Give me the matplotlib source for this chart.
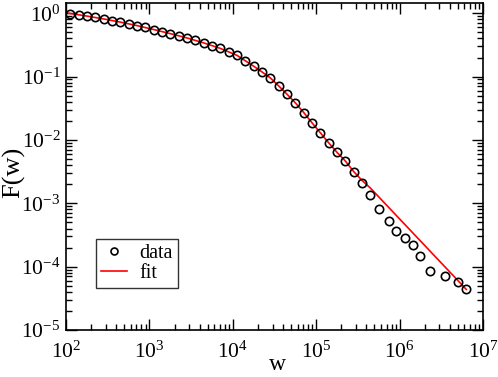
import matplotlib
matplotlib.use("Agg")
import matplotlib.pyplot as plt
import numpy as np

# log10 of w for data points
data_logw = [2.05, 2.15, 2.25, 2.35, 2.45, 2.55, 2.65, 2.75, 2.85, 2.95,
             3.05, 3.15, 3.25, 3.35, 3.45, 3.55, 3.65, 3.75, 3.85, 3.95,
             4.05, 4.15, 4.25, 4.35, 4.45, 4.55, 4.65, 4.75, 4.85, 4.95,
             5.05, 5.15, 5.25, 5.35, 5.45, 5.55, 5.65, 5.75,
             5.87, 5.96, 6.06, 6.16, 6.25, 6.36, 6.54, 6.70, 6.80]
# log10 of F(w) for data points
data_logF = [-0.01, -0.025, -0.045, -0.065, -0.09, -0.115, -0.14, -0.165, -0.195, -0.225,
             -0.257, -0.29, -0.322, -0.356, -0.39, -0.43, -0.468, -0.51, -0.555, -0.605,
             -0.665, -0.75, -0.836, -0.926, -1.021, -1.147, -1.278, -1.415, -1.567, -1.73,
             -1.888, -2.046, -2.197, -2.334, -2.50, -2.68, -2.865, -3.096,
             -3.281, -3.43, -3.54, -3.659, -3.83, -4.065, -4.148, -4.238, -4.358]

# fit curve (log10 values)
fit_logw = [2.03, 2.25, 2.45, 2.65, 2.85, 3.05, 3.25, 3.45, 3.65, 3.85,
            4.05, 4.15, 4.25, 4.35, 4.45, 4.55, 4.65, 4.75, 4.85, 4.95,
            5.05, 5.15, 5.25, 5.35, 5.45, 5.55, 5.65, 6.80]
fit_logF = [0.0, -0.045, -0.09, -0.14, -0.195, -0.257, -0.322, -0.39, -0.468, -0.555,
            -0.665, -0.75, -0.836, -0.926, -1.021, -1.147, -1.278, -1.415, -1.567, -1.73,
            -1.888, -2.046, -2.197, -2.334, -2.50, -2.64, -2.76, -4.36]

plt.rcParams['font.family'] = 'Liberation Serif'
plt.rcParams['mathtext.fontset'] = 'custom'
plt.rcParams['mathtext.rm'] = 'Liberation Serif'
plt.rcParams['mathtext.it'] = 'Liberation Serif:italic'

fig = plt.figure(figsize=(4.98, 3.77), dpi=100)
ax = fig.add_axes([66/498, 1 - 330/377, (483-66)/498, (330-3)/377])

w = 10.0 ** np.array(data_logw)
F = 10.0 ** np.array(data_logF)
fw = 10.0 ** np.array(fit_logw)
fF = 10.0 ** np.array(fit_logF)

ax.plot(w, F, linestyle='none', marker='o', markersize=6, markerfacecolor='none',
        markeredgecolor='black', markeredgewidth=1.2, label='data', zorder=3)
ax.plot(fw, fF, color='red', linewidth=1.2, label='fit', zorder=2)

ax.set_xscale('log')
ax.set_yscale('log')
ax.set_xlim(1e2, 1e7)
ax.set_ylim(1e-5, 1.45)

ax.tick_params(which='both', direction='in', top=True, right=True, labelsize=15.5)
ax.tick_params(which='major', length=8, width=1.0)
ax.tick_params(which='minor', length=4.5, width=1.0)
ax.tick_params(axis='x', which='major', pad=8)
ax.tick_params(axis='y', which='major', pad=4)
ax.yaxis.set_minor_locator(matplotlib.ticker.LogLocator(base=10, subs=np.arange(2, 10), numticks=20))
ax.xaxis.set_minor_locator(matplotlib.ticker.LogLocator(base=10, subs=np.arange(2, 10), numticks=20))
ax.yaxis.set_minor_formatter(matplotlib.ticker.NullFormatter())
ax.xaxis.set_minor_formatter(matplotlib.ticker.NullFormatter())
for s in ax.spines.values():
    s.set_linewidth(1.2)

xl = ax.set_xlabel('w', fontsize=17)
xl.set_va('center')
ax.xaxis.set_label_coords((277 - 66) / 417, (330 - 365) / 327)
yl = ax.set_ylabel('F(w)', fontsize=19)
yl.set_va('center')
ax.yaxis.set_label_coords((14 - 66) / 417, (330 - 172) / 327)

leg = ax.legend(loc='lower left', bbox_to_anchor=((96-66)/417, (330-288)/327),
                fontsize=14.5, frameon=True, fancybox=False, edgecolor='black',
                handlelength=1.3, handletextpad=0.6, borderpad=0.25, labelspacing=0.05,
                borderaxespad=0)
leg.get_frame().set_linewidth(1.0)
leg.legend_handles[0].set_markersize(5)

fig.savefig('out.png', dpi=100)
